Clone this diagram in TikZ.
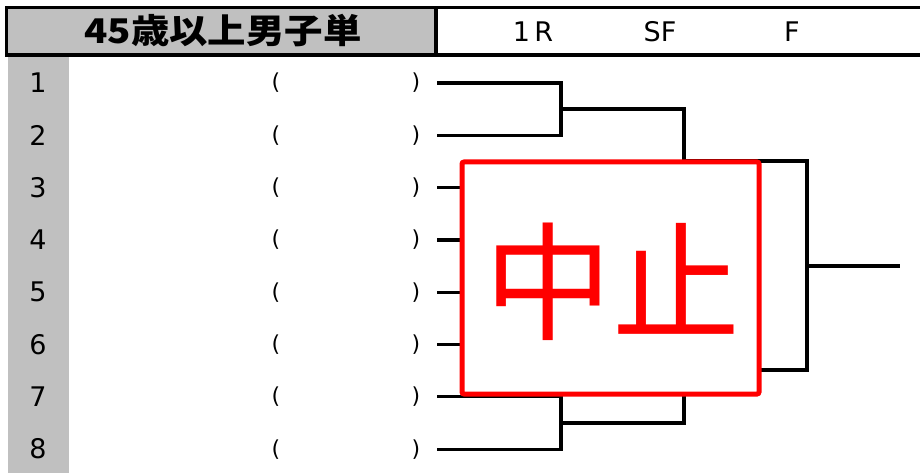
\documentclass[tikz,border=0pt]{standalone}
\usepackage{fontspec}
\setmainfont{DejaVu Sans}
\newfontfamily\jp{Noto Sans CJK JP}
\definecolor{cellgray}{HTML}{C0C0C0}
\begin{document}
\begin{tikzpicture}[x=1pt,y=-1pt,
  wire/.style={line width=3.2pt, line join=miter},
  num/.style={inner sep=0pt, font=\fontsize{27}{27}\selectfont},
  paren/.style={inner sep=0pt, font=\fontsize{22}{22}\selectfont},
  head/.style={inner sep=0pt, font=\fontsize{27}{27}\selectfont}]
\useasboundingbox (0,0) rectangle (920,473);
% header
\fill[cellgray] (6.5,7.5) rectangle (436,55);
\fill[cellgray] (8,57) rectangle (69,473);
\draw[line width=3.2pt] (920,7.5) -- (6.5,7.5) -- (6.5,55) -- (920,55);
\draw[line width=3.2pt] (436,7.5) -- (436,55);
\node[inner sep=0pt] (title) at (223,31) {\scalebox{1.13}[1]{\jp\bfseries\fontsize{34}{34}\selectfont 45歳以上男子単}};
\node[head] (h1) at (533,32) {1\,R};
\node[head] (h2) at (660,32) {SF};
\node[head] (h3) at (792,32) {F};
% rows
\foreach \i in {1,...,8} {
  \pgfmathsetmacro\yy{83+52.3*(\i-1)}
  \node[num] (n\i) at (38,\yy) {\i};
  \node[paren] (l\i) at (276,\yy) {(};
  \node[paren] (r\i) at (416,\yy) {)};
  \coordinate (s\i) at (437,\yy);
}
% bracket points
\coordinate (a1) at (561,109);
\coordinate (a2) at (561,214);
\coordinate (a3) at (561,318);
\coordinate (a4) at (561,423);
\coordinate (b1) at (684,161);
\coordinate (b2) at (684,370);
\coordinate (c1) at (807,266);
\coordinate (e1) at (900,266);
\draw[wire] (s1) -| (a1) |- (s2);
\draw[wire] (s3) -| (a2) |- (s4);
\draw[wire] (s5) -| (a3) |- (s6);
\draw[wire] (s7) -| (a4) |- (s8);
\draw[wire] (a1) -| (b1) |- (a2);
\draw[wire] (a3) -| (b2) |- (a4);
\draw[wire] (b1) -| (c1) |- (b2);
\draw[wire] (c1) -- (e1);
% cancelled box
\node[draw=red, line width=5pt, fill=white, rounded corners=2pt, inner sep=0pt,
      minimum width=297pt, minimum height=232pt] (stop) at (610.5,278) {};
\node[inner sep=0pt, text=red] (stoptext) at (612,282) {\jp\fontsize{128}{128}\selectfont 中止};
\end{tikzpicture}
\end{document}
